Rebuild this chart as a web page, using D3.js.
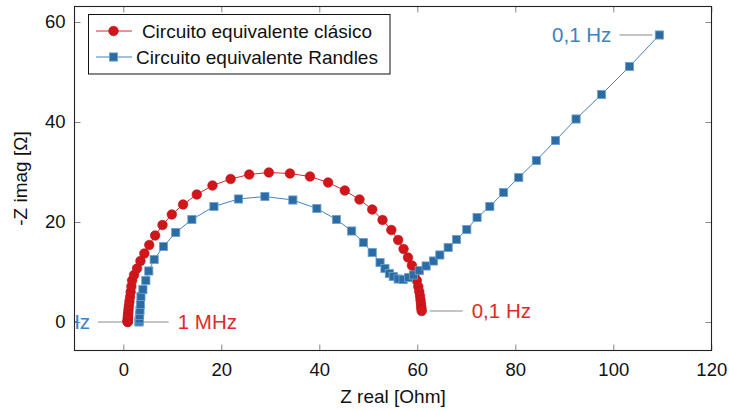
<!DOCTYPE html>
<html><head><meta charset="utf-8">
<script src="https://cdn.jsdelivr.net/npm/d3@7/dist/d3.min.js"></script>
<style>
html,body{margin:0;padding:0;background:#fff;}
text{font-family:"Liberation Sans",Arial,Helvetica,sans-serif;}
</style></head>
<body><svg id="c" width="729" height="411"></svg>
<script>
// ---- data ----
const classicRe = [0.9,0.9,0.9,0.91,0.92,0.93,0.95,0.98,1.02,1.08,1.15,1.25,1.38,1.5,1.65,1.8,2.2,2.8,3.5,4.3,5.3,6.5,8.0,9.9,12.2,15.0,18.2,21.9,25.7,29.7,34.0,38.1,41.8,45.2,48.2,50.8,52.9,54.7,56.1,57.2,58.1,58.9,59.5,59.9,60.2,60.4,60.55,60.65,60.75,60.8,60.85,60.9];
const classicIm = [0,0.05,0.15,0.3,0.5,0.8,1.1,1.5,2.0,2.6,3.3,4.1,5.0,6.0,7.1,8.3,9.4,10.7,12.2,13.7,15.4,17.3,19.4,21.5,23.5,25.5,27.3,28.6,29.5,29.9,29.7,29.1,27.9,26.3,24.5,22.5,20.4,18.4,16.4,14.6,12.9,11.3,9.7,8.3,7.1,6.1,5.2,4.4,3.7,3.1,2.6,2.2];
const randlesRe = [3.2,3.22,3.27,3.33,3.4,3.5,3.6,4.0,4.6,5.2,6.3,8.2,10.7,14.0,18.5,23.5,28.9,34.6,39.5,43.5,46.6,49.0,50.8,52.4,53.4,54.3,55.1,56.1,57.1,58.2,59.2,60.4,61.8,63.3,64.6,66.3,68.0,70.1,72.2,74.8,77.6,80.7,84.3,88.2,92.4,97.6,103.3,109.4];
const randlesIm = [0,0.2,0.6,1.3,2.3,3.5,5.1,6.5,8.3,10.2,12.5,15.1,17.9,20.5,23.1,24.6,25.1,24.4,22.7,20.5,18.2,15.9,13.9,11.9,10.7,9.7,9.1,8.6,8.5,8.9,9.4,10.3,11.2,12.2,13.4,14.9,16.5,18.5,20.9,23.1,25.9,28.9,32.3,36.3,40.6,45.5,51.1,57.4];
const seriesNames = ["Circuito equivalente clásico","Circuito equivalente Randles"];
const xTicks = [0,20,40,60,80,100,120];
const yTicks = [0,20,40,60];
const xLabel = "Z real [Ohm]";
const yLabel = "-Z imag [Ω]";
// frequency annotations: series index, point ("first"/"last"), text, side
const annoText = ["1 MHz","0,1 Hz","1 MHz","0,1 Hz"];
const annoSeries = [0,0,1,1];
const annoPoint = ["first","last","first","last"];
const annoSide = ["right","right","left","left"];

// ---- layout ----
const W=729,H=411;
const L=74.5,R=711.5,T=6.5,B=350.5;
const red="#d0161b", redStroke="#c01318", blue="#2d6ca2", blueStroke="#6aa3d6";
const redLine="#d42a2a", blueLine="#3f84c4";
const redText="#e02a2a", blueText="#3d82c2";

const svg=d3.select("#c");
const x=d3.scaleLinear().domain([-10,120]).range([L-0.2,R-0.2]);
const y=d3.scaleLinear().domain([-5.7,63.1]).range([B,T]);

svg.append("defs").append("clipPath").attr("id","clip")
  .append("rect").attr("x",L).attr("y",T).attr("width",R-L).attr("height",B-T);

// axes with inward ticks
function styleAxis(g){
  g.select(".domain").remove();
  g.selectAll(".tick line").attr("stroke","#888").attr("stroke-width",1);
  g.selectAll(".tick text").attr("fill","#111").style("font-size","18.5px");
}
svg.append("g").attr("transform",`translate(0,${B})`)
  .call(d3.axisBottom(x).tickValues(xTicks).tickSizeInner(-6).tickSizeOuter(0).tickPadding(12))
  .call(styleAxis);
svg.append("g").attr("transform",`translate(0,${T})`)
  .call(d3.axisTop(x).tickValues(xTicks).tickSizeInner(-6).tickSizeOuter(0).tickFormat(""))
  .call(styleAxis);
svg.append("g").attr("transform",`translate(${L},0)`)
  .call(d3.axisLeft(y).tickValues(yTicks).tickSizeInner(-6).tickSizeOuter(0).tickPadding(9))
  .call(styleAxis);
svg.append("g").attr("transform",`translate(${R},0)`)
  .call(d3.axisRight(y).tickValues(yTicks).tickSizeInner(-6).tickSizeOuter(0).tickFormat(""))
  .call(styleAxis);

const plot=svg.append("g").attr("clip-path","url(#clip)");

const series=[
  {re:classicRe,im:classicIm,line:redLine,kind:"circle"},
  {re:randlesRe,im:randlesIm,line:blueLine,kind:"square"}
];

// annotation lines and texts (drawn under markers)
annoText.forEach((t,i)=>{
  const s=series[annoSeries[i]];
  const k=annoPoint[i]==="first"?0:s.re.length-1;
  const px=x(s.re[k]), py=y(s.im[k]);
  const col=annoSeries[i]===0?redText:blueText;
  let x1,x2,tx,anchor;
  if(annoSide[i]==="right"){
    const off = annoPoint[i]==="first"?15:8;
    const len = annoPoint[i]==="first"?26:33;
    x1=px+off; x2=x1+len; tx=x2+9; anchor="start";
  } else {
    const off = annoPoint[i]==="first"?8:7;
    const len = 33;
    x2=px-off; x1=x2-len; tx=x1-8; anchor="end";
  }
  plot.append("line").attr("x1",x1).attr("x2",x2).attr("y1",py).attr("y2",py)
    .attr("stroke","#8a8a8a").attr("stroke-width",1);
  plot.append("text").attr("x",tx).attr("y",py).attr("dy","0.35em")
    .attr("text-anchor",anchor).attr("fill",col).style("font-size","20.5px").text(t);
});

const line=d3.line().x(d=>x(d[0])).y(d=>y(d[1]));
series.forEach(s=>{
  const pts=s.re.map((v,i)=>[v,s.im[i]]);
  plot.append("path").datum(pts).attr("d",line).attr("fill","none")
    .attr("stroke",s.line).attr("stroke-width",1);
});
// markers
{
  const s=series[0];
  plot.append("g").selectAll("circle").data(s.re.map((v,i)=>[v,s.im[i]])).join("circle")
    .attr("cx",d=>x(d[0])).attr("cy",d=>y(d[1])).attr("r",4.8)
    .attr("fill",red).attr("stroke",redStroke).attr("stroke-width",0.6);
}
{
  const s=series[1];
  const a=8.2;
  plot.append("g").selectAll("rect").data(s.re.map((v,i)=>[v,s.im[i]])).join("rect")
    .attr("x",d=>x(d[0])-a/2).attr("y",d=>y(d[1])-a/2).attr("width",a).attr("height",a)
    .attr("fill",blue).attr("stroke",blueStroke).attr("stroke-width",0.8);
}

// frame
svg.append("rect").attr("x",L).attr("y",T).attr("width",R-L).attr("height",B-T)
  .attr("fill","none").attr("stroke","#222").attr("stroke-width",1.1);

// legend
const lg=svg.append("g");
lg.append("rect").attr("x",88.5).attr("y",14.5).attr("width",301.5).attr("height",59.5)
  .attr("fill","#fff").attr("stroke","#111").attr("stroke-width",1);
const rows=[31,57];
rows.forEach((ry,i)=>{
  const col=i===0?redLine:blueLine;
  lg.append("line").attr("x1",96).attr("x2",132).attr("y1",ry).attr("y2",ry)
    .attr("stroke",col).attr("stroke-width",1);
  if(i===0){
    lg.append("circle").attr("cx",113.5).attr("cy",ry).attr("r",4.8)
      .attr("fill",red).attr("stroke",redStroke).attr("stroke-width",0.6);
  } else {
    lg.append("rect").attr("x",113.5-4.1).attr("y",ry-4.1).attr("width",8.2).attr("height",8.2)
      .attr("fill",blue).attr("stroke",blueStroke).attr("stroke-width",0.8);
  }
  lg.append("text").attr("x",257).attr("y",ry).attr("dy","0.35em").attr("text-anchor","middle")
    .attr("fill","#111").style("font-size","19px").text(seriesNames[i]);
});

// axis titles
svg.append("text").attr("x",(L+R)/2).attr("y",396).attr("dy","0.35em").attr("text-anchor","middle")
  .attr("fill","#111").style("font-size","19px").text(xLabel);
svg.append("text").attr("transform",`translate(20,${(T+B)/2}) rotate(-90)`).attr("dy","0.35em")
  .attr("text-anchor","middle").attr("fill","#111").style("font-size","19px").text(yLabel);
</script></body></html>
